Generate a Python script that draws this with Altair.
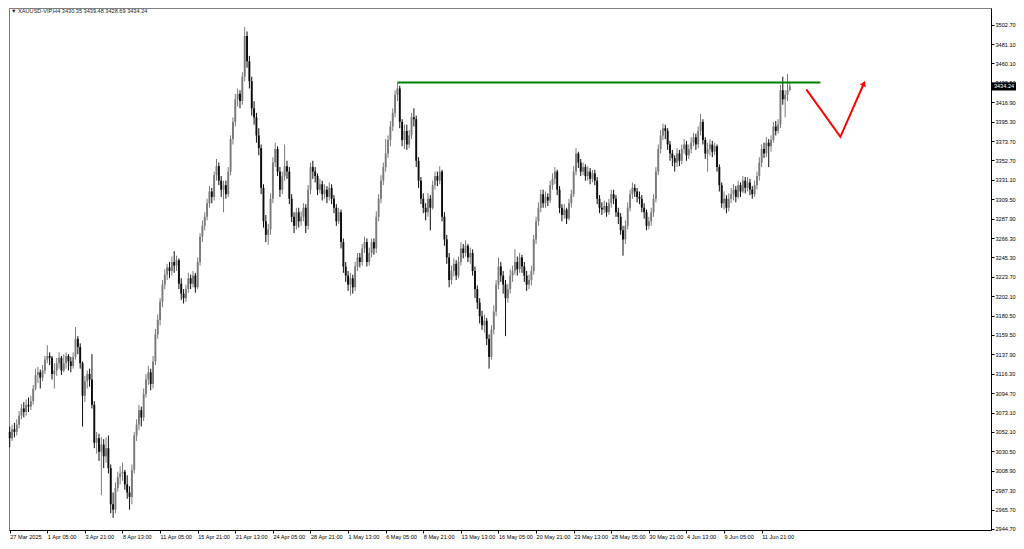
import altair as alt
import pandas as pd

# ---------------- data ----------------
symbol_title = "\u25bc XAUUSD-VIP,H4  3430.35 3439.48 3428.69 3434.24"

first_open = 3052

closes = [
    3045, 3055, 3052, 3060, 3070, 3078, 3074, 3082, 3080, 3086,
    3100, 3115, 3118, 3112, 3120, 3132, 3136, 3134, 3116, 3120,
    3128, 3134, 3120, 3128, 3136, 3130, 3125, 3135, 3155, 3146,
    3128, 3092, 3108, 3116, 3110, 3082, 3040, 3045, 3030, 3038,
    3025, 3034, 3012, 2972, 2966, 2990, 3002, 3006, 3008, 2994,
    2985, 2980, 3010, 3048, 3060, 3076, 3068, 3094, 3110, 3118,
    3105, 3130, 3160, 3176, 3196, 3215, 3226, 3234, 3230, 3240,
    3236, 3242, 3216, 3205, 3200, 3210, 3222, 3216, 3225, 3212,
    3240, 3268, 3280, 3290, 3305, 3318, 3312, 3336, 3346, 3330,
    3320, 3325, 3315, 3340, 3376, 3395, 3420, 3426, 3418, 3445,
    3490, 3462, 3440, 3410, 3400, 3380, 3366, 3322, 3285, 3270,
    3276, 3310, 3350, 3365, 3340, 3320, 3335, 3346, 3340, 3310,
    3290, 3280, 3295, 3285, 3290, 3300, 3280, 3320, 3345, 3340,
    3335, 3320, 3326, 3315, 3320, 3312, 3322, 3310, 3300, 3285,
    3295, 3262, 3235, 3225, 3215, 3222, 3212, 3235, 3245, 3240,
    3255, 3262, 3240, 3250, 3262, 3255, 3290, 3310, 3330, 3345,
    3360, 3375, 3390, 3405, 3425, 3432, 3395, 3375, 3385, 3370,
    3380, 3400, 3398, 3352, 3330, 3310, 3300, 3295, 3310, 3300,
    3325, 3335, 3330, 3340, 3290, 3265, 3245, 3220, 3230, 3238,
    3225, 3240, 3255, 3250, 3258, 3245, 3250, 3230, 3210, 3195,
    3180, 3170, 3175, 3155, 3135, 3165, 3185, 3215, 3235, 3225,
    3215, 3200, 3210, 3225, 3230, 3240, 3232, 3245, 3235, 3225,
    3215, 3220, 3230, 3265, 3285, 3300, 3315, 3305, 3312, 3308,
    3325, 3332, 3340, 3320, 3300, 3292, 3298, 3288, 3305, 3315,
    3340, 3360, 3350, 3340, 3345, 3335, 3340, 3332, 3338, 3330,
    3310, 3300, 3298, 3302, 3295, 3305, 3315, 3310, 3295, 3290,
    3275, 3265, 3280, 3300, 3315, 3322, 3318, 3312, 3310, 3300,
    3295, 3280, 3285, 3295, 3310, 3340, 3365, 3380, 3388, 3385,
    3370, 3360, 3355, 3350, 3360, 3352, 3365, 3370, 3358, 3365,
    3372, 3378, 3370, 3385, 3395, 3375, 3360, 3365, 3370, 3362,
    3368, 3345, 3325, 3305, 3310, 3300, 3310, 3315, 3320, 3312,
    3325, 3318, 3330, 3322, 3328, 3320, 3315, 3325, 3335, 3350,
    3365, 3360, 3372, 3368, 3375, 3390, 3385, 3392, 3430, 3420,
    3425, 3430.35, 3434.24,
]

highs = [
    3058, 3060, 3062, 3066, 3075, 3083, 3085, 3088, 3090, 3092,
    3104, 3122, 3124, 3121, 3126, 3136, 3148, 3140, 3136, 3128,
    3134, 3140, 3136, 3138, 3140, 3138, 3135, 3140, 3168, 3158,
    3150, 3130, 3114, 3120, 3122, 3138, 3086, 3052, 3050, 3046,
    3044, 3046, 3048, 3016, 2985, 2996, 3008, 3014, 3018, 3010,
    3004, 2992, 3016, 3052, 3066, 3082, 3080, 3100, 3116, 3125,
    3122, 3136, 3166, 3182, 3200, 3220, 3232, 3238, 3240, 3246,
    3252, 3247, 3244, 3222, 3210, 3215, 3228, 3226, 3230, 3228,
    3245, 3272, 3286, 3295, 3310, 3324, 3322, 3340, 3354, 3350,
    3335, 3330, 3330, 3345, 3380, 3400, 3426, 3432, 3430, 3450,
    3500, 3495, 3468, 3445, 3418, 3405, 3388, 3370, 3326, 3292,
    3282, 3316, 3356, 3372, 3368, 3345, 3340, 3370, 3352, 3345,
    3315, 3295, 3300, 3300, 3296, 3305, 3304, 3325, 3350, 3352,
    3345, 3338, 3332, 3330, 3326, 3324, 3328, 3326, 3314, 3304,
    3300, 3298, 3266, 3240, 3230, 3228, 3226, 3240, 3250, 3250,
    3260, 3268, 3266, 3256, 3266, 3266, 3296, 3315, 3336, 3350,
    3376, 3380, 3396, 3410, 3430, 3438.5, 3435, 3398, 3392, 3392,
    3386, 3405, 3410, 3402, 3356, 3334, 3316, 3305, 3316, 3314,
    3330, 3340, 3340, 3346, 3342, 3295, 3270, 3250, 3236, 3244,
    3242, 3246, 3262, 3260, 3264, 3260, 3256, 3254, 3235, 3214,
    3200, 3186, 3182, 3178, 3160, 3170, 3192, 3220, 3245, 3240,
    3230, 3220, 3216, 3232, 3236, 3254, 3246, 3250, 3248, 3240,
    3230, 3226, 3236, 3270, 3290, 3306, 3320, 3320, 3318, 3316,
    3330, 3338, 3345, 3342, 3324, 3304, 3304, 3300, 3310, 3320,
    3346, 3366, 3362, 3354, 3350, 3348, 3346, 3344, 3342, 3342,
    3334, 3314, 3306, 3308, 3306, 3310, 3320, 3320, 3314, 3300,
    3294, 3280, 3286, 3306, 3320, 3328, 3326, 3322, 3318, 3314,
    3305, 3298, 3290, 3300, 3315, 3345, 3370, 3386, 3393, 3392,
    3388, 3374, 3364, 3358, 3366, 3364, 3370, 3376, 3374, 3370,
    3378, 3383, 3382, 3390, 3404, 3398, 3378, 3372, 3376, 3374,
    3372, 3370, 3348, 3328, 3318, 3314, 3316, 3322, 3326, 3324,
    3330, 3328, 3335, 3334, 3334, 3332, 3324, 3330, 3340, 3356,
    3370, 3372, 3378, 3376, 3380, 3395, 3396, 3398, 3436, 3445,
    3430, 3448, 3439.48,
]

lows = [
    3035, 3042, 3046, 3048, 3056, 3066, 3068, 3070, 3074, 3076,
    3082, 3098, 3106, 3100, 3108, 3116, 3128, 3126, 3110, 3100,
    3114, 3122, 3115, 3118, 3122, 3120, 3118, 3122, 3132, 3138,
    3122, 3058, 3085, 3100, 3102, 3078, 3034, 3028, 3020, 2982,
    3012, 3018, 3006, 2962, 2957, 2962, 2986, 2994, 2998, 2988,
    2978, 2966, 2972, 3006, 3042, 3054, 3058, 3064, 3090, 3104,
    3098, 3100, 3126, 3155, 3170, 3190, 3210, 3220, 3222, 3225,
    3228, 3230, 3210, 3198, 3194, 3196, 3206, 3210, 3212, 3206,
    3210, 3236, 3262, 3275, 3286, 3300, 3305, 3308, 3330, 3325,
    3312, 3295, 3310, 3312, 3336, 3370, 3390, 3412, 3410, 3414,
    3440, 3455, 3432, 3402, 3392, 3372, 3358, 3315, 3278, 3262,
    3259, 3270, 3305, 3345, 3335, 3312, 3315, 3330, 3332, 3304,
    3284, 3272, 3276, 3278, 3280, 3285, 3272, 3276, 3315, 3332,
    3328, 3314, 3316, 3308, 3310, 3305, 3308, 3304, 3294, 3280,
    3282, 3255, 3228, 3218, 3208, 3203, 3205, 3208, 3230, 3234,
    3236, 3250, 3235, 3236, 3245, 3248, 3250, 3285, 3305, 3325,
    3340, 3355, 3368, 3385, 3400, 3418, 3388, 3368, 3365, 3364,
    3366, 3376, 3390, 3345, 3322, 3304, 3294, 3286, 3290, 3275,
    3298, 3320, 3324, 3326, 3285, 3258, 3238, 3212, 3215, 3224,
    3220, 3222, 3236, 3244, 3246, 3240, 3238, 3225, 3200, 3188,
    3172, 3165, 3162, 3148, 3122, 3132, 3160, 3180, 3210, 3218,
    3205, 3158, 3195, 3205, 3218, 3226, 3225, 3228, 3228, 3218,
    3208, 3210, 3214, 3226, 3260, 3280, 3295, 3300, 3300, 3302,
    3305, 3320, 3326, 3314, 3294, 3285, 3288, 3282, 3286, 3300,
    3312, 3336, 3344, 3335, 3336, 3330, 3330, 3326, 3328, 3325,
    3304, 3294, 3292, 3294, 3290, 3292, 3300, 3304, 3290, 3282,
    3270, 3247, 3260, 3276, 3296, 3310, 3312, 3306, 3304, 3295,
    3288, 3275, 3276, 3280, 3290, 3306, 3336, 3360, 3375, 3376,
    3364, 3352, 3346, 3340, 3345, 3346, 3348, 3360, 3352, 3354,
    3360, 3368, 3364, 3366, 3380, 3370, 3354, 3340, 3358, 3356,
    3358, 3340, 3318, 3300, 3298, 3294, 3296, 3305, 3308, 3306,
    3310, 3312, 3316, 3316, 3318, 3314, 3310, 3312, 3320, 3330,
    3345, 3355, 3356, 3345, 3362, 3372, 3380, 3382, 3388, 3414,
    3400, 3418, 3428.69,
]

x_tick_labels = [
    "27 Mar 2025", "1 Apr 05:00", "3 Apr 21:00", "8 Apr 13:00", "11 Apr 05:00",
    "15 Apr 21:00", "21 Apr 13:00", "24 Apr 05:00", "28 Apr 21:00", "1 May 13:00",
    "6 May 05:00", "8 May 21:00", "13 May 13:00", "16 May 05:00", "20 May 21:00",
    "23 May 13:00", "28 May 05:00", "30 May 21:00", "4 Jun 13:00", "9 Jun 05:00",
    "11 Jun 21:00",
]
bars_per_label = 16

y_tick_values = [
    3502.70, 3481.10, 3460.10, 3438.50, 3416.90, 3395.30, 3373.70, 3352.70,
    3331.10, 3309.50, 3287.90, 3266.30, 3245.30, 3223.70, 3202.10, 3180.50,
    3159.50, 3137.90, 3116.30, 3094.70, 3073.10, 3052.10, 3030.50, 3008.90,
    2987.30, 2965.70, 2944.70,
]

# resistance line (green): starts at the 6 May peak bar, price level
resistance_level = [3438.5]
resistance_from = [165]
resistance_to = [345]

# projected path (red arrow): bar positions and prices
arrow_bars = [339, 353.5, 363.5]
arrow_prices = [3431, 3378.5, 3437.5]

# ---------------- chart ----------------
n = len(closes)
assert len(highs) == n and len(lows) == n, (n, len(highs), len(lows))
opens = [first_open] + closes[:-1]

bars = pd.DataFrame({
    "i": list(range(n)),
    "o": opens,
    "h": highs,
    "l": lows,
    "c": closes,
})
bars["dir"] = ["up" if c >= o else "down" for o, c in zip(opens, closes)]

W, H = 982, 522
FONT = "Liberation Sans"
FS = 5.6

xscale = alt.Scale(domain=[-0.3, 417.6], nice=False, zero=False)
yscale = alt.Scale(domain=[2943.5, 3521.0], nice=False, zero=False)

label_arr = "[" + ",".join("'" + s + "'" for s in x_tick_labels) + "]"
xaxis = alt.Axis(
    values=[k * bars_per_label for k in range(len(x_tick_labels))],
    tickCount=len(x_tick_labels) + 5,
    labelExpr=f"{label_arr}[round(datum.value/{bars_per_label})]",
    labelAlign="left", labelBaseline="top", labelPadding=1,
    tickSize=3, tickColor="#000000", domainColor="#000000",
    labelFontSize=FS, labelFont=FONT, labelColor="#000000",
    title=None, grid=False, labelOverlap=False, labelFlush=False,
)
yaxis = alt.Axis(
    orient="right", values=y_tick_values, tickCount=len(y_tick_values) + 5,
    format=".2f",
    tickSize=3, tickColor="#000000", domainColor="#000000",
    labelPadding=1, labelFontSize=FS, labelFont=FONT, labelColor="#000000",
    title=None, grid=False, labelOverlap=False, labelFlush=False,
)
color = alt.Color("dir:N", scale=alt.Scale(domain=["up", "down"],
                                           range=["#7a7a7a", "#0d0d0d"]), legend=None)

base = alt.Chart(bars)
wicks = base.mark_rule(strokeWidth=1).encode(
    x=alt.X("i:Q", scale=xscale, axis=xaxis),
    y=alt.Y("l:Q", scale=yscale, axis=yaxis),
    y2="h:Q",
    color=color,
)
bodies = base.mark_rule(strokeWidth=1.9).encode(
    x=alt.X("i:Q", scale=xscale),
    y=alt.Y("o:Q", scale=yscale),
    y2="c:Q",
    color=color,
)

res_df = pd.DataFrame({"x1": resistance_from, "x2": resistance_to, "lvl": resistance_level})
resistance = alt.Chart(res_df).mark_rule(color="#008000", strokeWidth=2).encode(
    x=alt.X("x1:Q", scale=xscale), x2="x2:Q",
    y=alt.Y("lvl:Q", scale=yscale)
)

arr_df = pd.DataFrame({"ax": arrow_bars, "ay": arrow_prices, "k": list(range(len(arrow_bars)))})
arrow_line = alt.Chart(arr_df).mark_line(color="#ff0000", strokeWidth=2).encode(
    x=alt.X("ax:Q", scale=xscale), y=alt.Y("ay:Q", scale=yscale),
    order="k:Q"
)
tip_df = pd.DataFrame({"ax": arrow_bars[-1:], "ay": arrow_prices[-1:]})
arrow_head = alt.Chart(tip_df).mark_point(
    shape="triangle-up", filled=True, size=40, angle=23, color="#ff0000", opacity=1
).encode(x=alt.X("ax:Q", scale=xscale), y=alt.Y("ay:Q", scale=yscale))

last_df = pd.DataFrame({"p": [closes[-1]], "lbl": [f"{closes[-1]:.2f}"]})
price_box = alt.Chart(last_df).mark_point(
    shape="M-1,-0.34L1,-0.34L1,0.34L-1,0.34Z", size=24 * 24, filled=True,
    color="#000000", opacity=1, strokeWidth=0
).encode(x=alt.value(W + 13), y=alt.Y("p:Q", scale=yscale))
price_txt = alt.Chart(last_df).mark_text(
    color="#ffffff", fontSize=FS, font=FONT, align="center", baseline="middle"
).encode(x=alt.value(W + 13), y=alt.Y("p:Q", scale=yscale), text="lbl:N")

title_df = pd.DataFrame({"t": [symbol_title]})
title = alt.Chart(title_df).mark_text(
    align="left", baseline="top", fontSize=FS, font=FONT, color="#222222"
).encode(x=alt.value(2), y=alt.value(1), text="t:N")

chart = alt.layer(
    wicks, bodies, resistance, arrow_line, arrow_head, price_box, price_txt, title
).properties(width=W, height=H, padding=0, background="#ffffff").configure_view(
    stroke="#808080", strokeWidth=1
).configure_axis(labelOverlap=False)

chart.save("out.html", embed_options={"renderer": "svg", "actions": False})
